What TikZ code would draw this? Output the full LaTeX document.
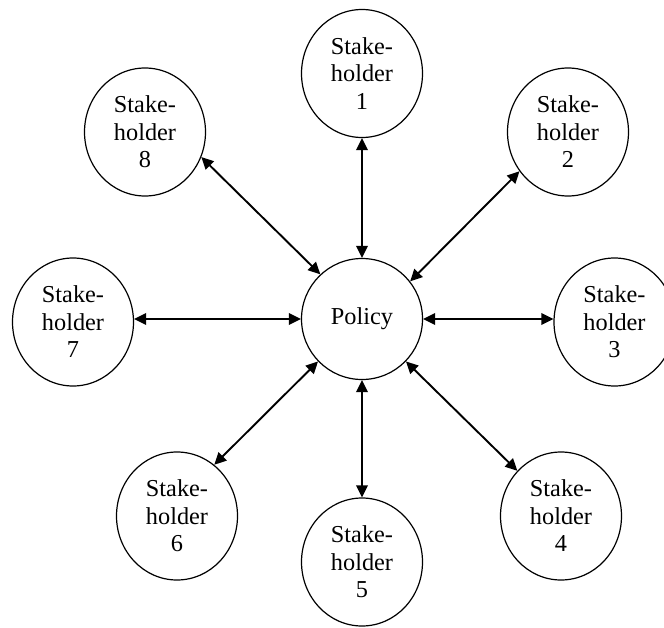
\documentclass[tikz,border=0pt]{standalone}
\usepackage{fontspec}
\setmainfont{Liberation Serif}
\usetikzlibrary{shapes.geometric, arrows.meta}
\begin{document}
\begin{tikzpicture}[x=1pt, y=-1pt,
  label font/.style={font=\fontsize{24.3}{27.5}\selectfont},
  actor/.style={ellipse, draw, line width=1.2pt, minimum width=121pt,
    minimum height=128pt, inner sep=0pt, align=center, label font},
  hub/.style={circle, draw, line width=1.2pt, minimum size=121pt,
    inner sep=0pt, label font},
  link/.style={line width=1.9pt,
    {Triangle[length=12pt,width=11.5pt]}-{Triangle[length=12pt,width=11.5pt]}}
]
\clip (0,0) rectangle (664,627);

% central policy node
\node[hub] (p) at (362,319) {Policy};

% stakeholders around it
\node[actor] (s1) at (362,73.5)  {Stake-\\holder\\1};
\node[actor] (s2) at (568,132)   {Stake-\\holder\\2};
\node[actor] (s3) at (614.5,322) {Stake-\\holder\\3};
\node[actor] (s4) at (561,516)   {Stake-\\holder\\4};
\node[actor] (s5) at (362,562)   {Stake-\\holder\\5};
\node[actor] (s6) at (177,516)   {Stake-\\holder\\6};
\node[actor] (s7) at (73,322)    {Stake-\\holder\\7};
\node[actor] (s8) at (145,132)   {Stake-\\holder\\8};

% two-way links
\draw[link] (s1.south) -- (p.north);
\draw[link] (s2.219)   -- (p.38);
\draw[link] (p.west -| s3.west) -- (p.east);
\draw[link] (s4.134)   -- (p.-44);
\draw[link] (s5.north) -- (p.south);
\draw[link] (s6.54)    -- (p.224);
\draw[link] (p.west -| s7.east) -- (p.west);
\draw[link] (s8.-24)   -- (p.133);
\end{tikzpicture}
\end{document}
